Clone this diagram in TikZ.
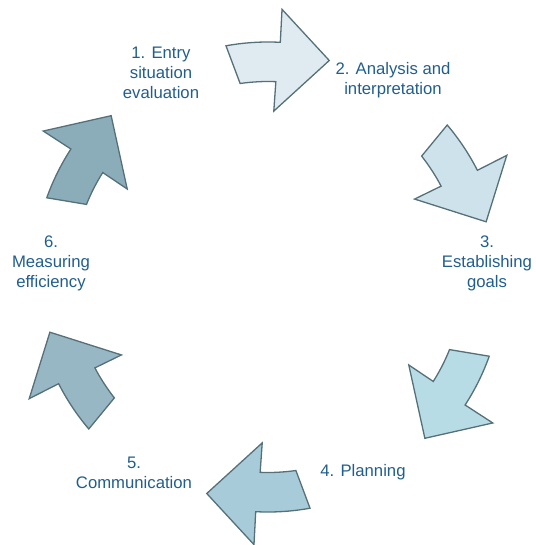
\documentclass[tikz,border=0pt]{standalone}
\usepackage{fontspec}
\setmainfont{Liberation Sans}
\definecolor{edgec}{HTML}{56707A}
\definecolor{txtc}{HTML}{215E8C}
\definecolor{ca}{HTML}{DFEBF0}
\definecolor{cb}{HTML}{CDE2EA}
\definecolor{cc}{HTML}{B7DCE6}
\definecolor{cd}{HTML}{A7CBD9}
\definecolor{ce}{HTML}{96B7C3}
\definecolor{cf}{HTML}{8BADB9}
\newcommand\cycarrow[2]{%
 \begin{scope}[shift={(C)}, rotate=#1]
 \path[cyc, fill=#2] (13.3:235) arc[start angle=13.3, end angle=0, radius=235]
   -- (0:268) -- (-12.8:225) -- (1:166) -- (0.7:195.5)
   arc[start angle=0.7, end angle=11.2, radius=195.5] -- cycle;
 \end{scope}}
\begin{document}
\begin{tikzpicture}[x=1pt,y=1pt,
  cyc/.style={draw=edgec, line width=1.3pt, line join=miter},
  lbl/.style={text=txtc, font=\fontsize{16.7}{20}\selectfont, align=center, inner sep=0pt}]
\useasboundingbox (0,0) rectangle (535,-545);
\coordinate (C) at (268,-277);
\cycarrow{87}{ca}
\cycarrow{27}{cb}
\cycarrow{-33}{cc}
\cycarrow{-93}{cd}
\cycarrow{-153}{ce}
\cycarrow{147}{cf}
\node[lbl] (l1) at (161,-73) {1. Entry\\situation\\evaluation};
\node[lbl] (l2) at (393,-80) {2. Analysis and\\interpretation};
\node[lbl] (l3) at (487,-263) {3.\\Establishing\\goals};
\node[lbl] (l4) at (363,-472) {4. Planning};
\node[lbl] (l5) at (134,-473) {5.\\Communication};
\node[lbl] (l6) at (51,-263) {6.\\Measuring\\efficiency};
\end{tikzpicture}
\end{document}
